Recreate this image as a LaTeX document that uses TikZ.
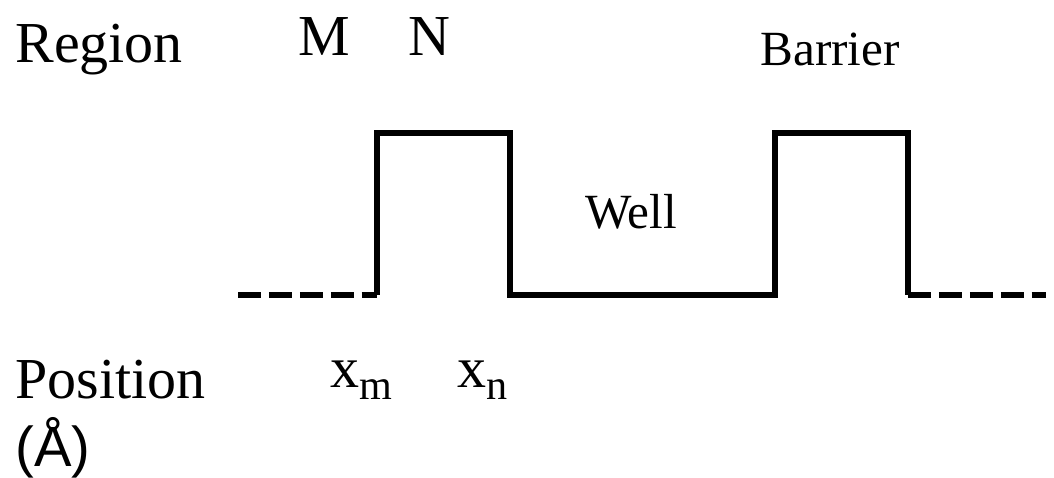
\documentclass[tikz,border=0pt]{standalone}
\usepackage{fontspec}
\setmainfont{Liberation Serif}
\newfontfamily\arialfont{Liberation Sans}
\usetikzlibrary{calc}

\newcommand{\lowsub}[1]{\raisebox{-7pt}{\fontsize{24}{28}\selectfont #1}}

\tikzset{
  biglabel/.style={font=\fontsize{33}{38}\selectfont,inner sep=0pt,anchor=base west},
  smalllabel/.style={font=\fontsize{28}{32}\selectfont,inner sep=0pt,anchor=base west},
  profile/.style={line width=3.4pt,line join=miter},
  lead/.style={line width=3.4pt,dash pattern=on 13pt off 4.6pt},
}

\begin{document}
\begin{tikzpicture}[x=0.02cm,y=-0.02cm]
  \useasboundingbox (0,0) rectangle (1054,477);
  % Potential profile
  \coordinate (L) at (238,295);
  \coordinate (A) at (377,295);
  \coordinate (B) at (510,295);
  \coordinate (C) at (775,295);
  \coordinate (D) at (908,295);
  \coordinate (R) at (1046,295);
  \draw[profile] (A) -- ++(0,-162) -| (B) -- (C) -- ++(0,-162) -| (D);
  \draw[lead] (L) -- (A);
  \draw[lead] (D) -- (R);
  % Labels
  \node[biglabel] (region) at (15,62) {Region};
  \node[biglabel] (regm) at (298,55) {M};
  \node[biglabel] (regn) at (408,55) {N};
  \node[smalllabel] (barrier) at (760,65) {Barrier};
  \node[smalllabel] (well) at (585,228) {Well};
  \node[biglabel] (position) at (15,398) {Position};
  \node[biglabel,font=\arialfont\fontsize{32}{36}\selectfont] (unit) at (15,466) {(Å)};
  \node[biglabel] (xm) at (330,387) {x\lowsub{m}};
  \node[biglabel] (xn) at (457,387) {x\lowsub{n}};
\end{tikzpicture}
\end{document}
